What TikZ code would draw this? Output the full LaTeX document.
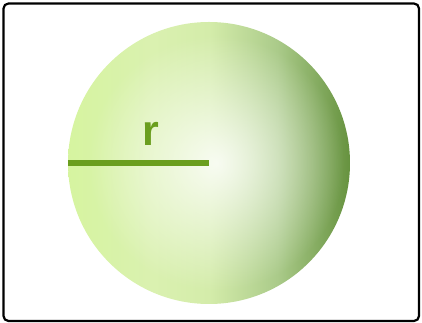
\documentclass[tikz,border=0pt]{standalone}
\usepackage{fontspec}
\setmainfont{Liberation Sans}
\usetikzlibrary{positioning,fadings}

\definecolor{radgreen}{HTML}{6A9E1E}
\definecolor{ballleft}{HTML}{D6F4A0}
\definecolor{ballmid}{HTML}{DAF1B0}
\definecolor{balltop}{HTML}{D4ECAA}
\definecolor{ballshadow}{HTML}{ABCB8A}
\definecolor{ballright}{HTML}{66923F}

\pgfdeclarehorizontalshading{ballshade}{100bp}{%
    color(0bp)=(ballleft); color(25bp)=(ballleft);
    color(40bp)=(ballmid); color(50bp)=(balltop);
    color(62bp)=(ballshadow); color(75bp)=(ballright);
    color(100bp)=(ballright)}
\tikzfading[name=glowfade, inner color=transparent!15, outer color=transparent!100]

\tikzset{
    % frame and sphere
    frame/.style={draw, line width=2.2pt, rounded corners=5pt},
    sphere/.style={circle, minimum size=282pt, inner sep=0pt, shading=ballshade},
    glow/.style={fill=white, path fading=glowfade},
    % radius
    radius line/.style={draw=radgreen, line width=6pt},
    radius label/.style={text=radgreen, font=\bfseries\fontsize{43}{46}\selectfont, inner sep=0pt},
}

\begin{document}
\begin{tikzpicture}[x=1pt, y=1pt]
    \useasboundingbox (0, 0) rectangle (422, 323);
    \draw[frame] (3.5, 2) rectangle (419, 319.5);

    % sphere with highlight
    \node[sphere] (ball) at (209, 160) {};
    \fill[glow] (216, 160) circle (128);

    % radius
    \draw[radius line] (ball.west) -- (ball.center);
    \node[radius label, anchor=base] (r) at (151, 177) {r};
\end{tikzpicture}
\end{document}
